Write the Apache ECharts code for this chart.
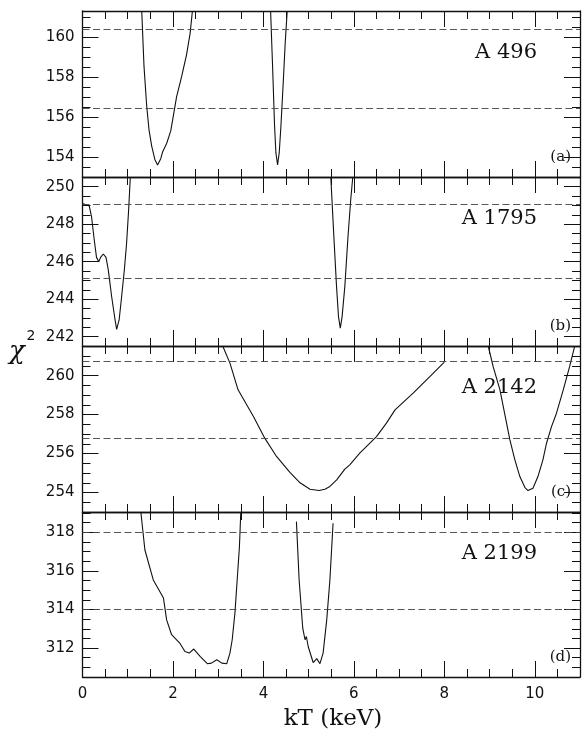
<!DOCTYPE html>
<html>
<head>
<meta charset="utf-8">
<script src="https://cdn.jsdelivr.net/npm/echarts@6/dist/echarts.min.js"></script>
<style>
  html, body { margin: 0; padding: 0; background: #fff; }
  #chart { width: 584px; height: 738px; }
</style>
</head>
<body>
<div id="chart"></div>
<script>
// ---- kT axis ticks (keV) ----
const kTMajorTicks = [0, 2, 4, 6, 8, 10];
const kTMinorTicks = [0.5, 1, 1.5, 2.5, 3, 3.5, 4.5, 5, 5.5, 6.5, 7, 7.5, 8.5, 9, 9.5, 10.5];

// ---- A 496 ----
const a496Range = [153.0, 161.33];
const a496Major = [154, 156, 158, 160];
const a496Levels = [156.45, 160.42];
const a496LowT = [1.31, 1.36, 1.42, 1.47, 1.53, 1.60, 1.66, 1.73, 1.77, 1.86, 1.95, 2.02, 2.08, 2.19, 2.30, 2.38, 2.43];
const a496LowChi = [161.33, 158.55, 156.55, 155.38, 154.55, 153.88, 153.6, 153.92, 154.25, 154.68, 155.3, 156.22, 157.02, 158.02, 159.13, 160.22, 161.33];
const a496HighT = [4.159, 4.203, 4.247, 4.276, 4.313, 4.35, 4.387, 4.438, 4.482, 4.526];
const a496HighChi = [161.33, 158.55, 155.55, 154.22, 153.6, 154.22, 155.55, 157.72, 159.72, 161.33];

// ---- A 1795 ----
const a1795Range = [241.5, 250.52];
const a1795Major = [242, 244, 246, 248, 250];
const a1795Levels = [245.11, 249.06];
const a1795LowT = [0.0, 0.15, 0.2, 0.26, 0.31, 0.36, 0.40, 0.46, 0.52, 0.57, 0.645, 0.72, 0.755, 0.81, 0.865, 0.925, 0.975, 1.02, 1.057];
const a1795LowChi = [249.11, 248.97, 248.4, 247.16, 246.23, 246.0, 246.23, 246.41, 246.23, 245.56, 244.13, 242.89, 242.39, 242.89, 244.13, 245.56, 246.98, 248.76, 250.52];
const a1795HighT = [5.49, 5.558, 5.617, 5.66, 5.70, 5.74, 5.80, 5.87, 5.93, 5.97, 5.975];
const a1795HighChi = [250.52, 247.33, 244.67, 243.07, 242.45, 243.07, 244.67, 247.33, 249.29, 250.36, 250.52];

// ---- A 2142 ----
const a2142Range = [253.0, 261.52];
const a2142Major = [254, 256, 258, 260];
const a2142Levels = [256.77, 260.72];
const a2142LowT = [3.10, 3.26, 3.44, 3.63, 3.78, 4.03, 4.29, 4.586, 4.81, 5.03, 5.23, 5.36, 5.47, 5.62, 5.80, 5.91, 6.13, 6.50, 6.72, 6.91, 7.31, 7.68, 8.00];
const a2142LowChi = [261.52, 260.64, 259.27, 258.5, 257.9, 256.79, 255.85, 255.03, 254.5, 254.17, 254.1, 254.17, 254.31, 254.65, 255.2, 255.42, 256.02, 256.87, 257.56, 258.24, 259.1, 259.95, 260.69];
const a2142HighT = [8.97, 9.08, 9.23, 9.34, 9.45, 9.56, 9.67, 9.78, 9.85, 9.96, 10.07, 10.18, 10.26, 10.37, 10.48, 10.63, 10.77, 10.88];
const a2142HighChi = [261.52, 260.46, 259.27, 257.98, 256.7, 255.68, 254.82, 254.27, 254.1, 254.22, 254.82, 255.68, 256.53, 257.38, 258.07, 259.27, 260.46, 261.49];

// ---- A 2199 ----
const a2199Range = [310.5, 319.05];
const a2199Major = [312, 314, 316, 318];
const a2199Levels = [314.0, 317.98];
const a2199LowT = [1.29, 1.38, 1.565, 1.79, 1.86, 1.97, 2.15, 2.265, 2.36, 2.46, 2.6, 2.76, 2.85, 2.97, 3.08, 3.19, 3.26, 3.31, 3.37, 3.42, 3.47, 3.50];
const a2199LowChi = [319.05, 317.08, 315.53, 314.59, 313.46, 312.69, 312.26, 311.82, 311.74, 311.95, 311.57, 311.19, 311.22, 311.39, 311.22, 311.19, 311.74, 312.43, 313.81, 315.53, 317.26, 319.05];
const a2199HighT = [4.73, 4.79, 4.87, 4.92, 4.95, 4.99, 5.10, 5.18, 5.25, 5.32, 5.40, 5.47, 5.54];
const a2199HighChi = [318.55, 315.53, 313.03, 312.43, 312.6, 312.08, 311.25, 311.45, 311.19, 311.74, 313.46, 315.53, 318.47];

const panels = [
  { name: 'A 496',  tag: '(a)', range: a496Range,  major: a496Major,  levels: a496Levels,
    curves: [[a496LowT, a496LowChi], [a496HighT, a496HighChi]],     top: 11,  height: 166 },
  { name: 'A 1795', tag: '(b)', range: a1795Range, major: a1795Major, levels: a1795Levels,
    curves: [[a1795LowT, a1795LowChi], [a1795HighT, a1795HighChi]], top: 177, height: 169 },
  { name: 'A 2142', tag: '(c)', range: a2142Range, major: a2142Major, levels: a2142Levels,
    curves: [[a2142LowT, a2142LowChi], [a2142HighT, a2142HighChi]], top: 346, height: 166 },
  { name: 'A 2199', tag: '(d)', range: a2199Range, major: a2199Major, levels: a2199Levels,
    curves: [[a2199LowT, a2199LowChi], [a2199HighT, a2199HighChi]], top: 512, height: 165 }
];

const INK = '#111';
const SANS = '"DejaVu Sans", sans-serif';
const SERIF = '"DejaVu Serif", serif';

function halfSteps(lo, hi) {
  const out = [];
  for (let v = Math.ceil(lo * 2) / 2; v <= hi + 1e-9; v += 0.5) out.push(v);
  return out;
}

function axisBase(gi, extra) {
  return Object.assign({
    type: 'value', gridIndex: gi,
    splitLine: { show: false },
    axisLine: { show: false, onZero: false },
    axisLabel: { show: false }
  }, extra);
}

function xAxesFor(gi, showLabels) {
  const common = { min: 0, max: 11 };
  const major = (pos, labels) => axisBase(gi, Object.assign({}, common, {
    position: pos,
    axisLine: { show: true, onZero: false, lineStyle: { color: INK, width: 1.3 } },
    axisTick: { show: true, inside: true, length: 16, customValues: kTMajorTicks, lineStyle: { color: INK, width: 1 } },
    axisLabel: { show: labels, customValues: kTMajorTicks, color: INK, fontFamily: SANS, fontSize: 15, margin: 10 }
  }));
  const minor = (pos) => axisBase(gi, Object.assign({}, common, {
    position: pos,
    axisTick: { show: true, inside: true, length: 8, customValues: kTMinorTicks, lineStyle: { color: INK, width: 1 } }
  }));
  return [major('bottom', showLabels), minor('bottom'), major('top', false), minor('top')];
}

function yAxesFor(gi, p) {
  const common = { min: p.range[0], max: p.range[1] };
  const minorVals = halfSteps(p.range[0], p.range[1]);
  const major = (pos, labels) => axisBase(gi, Object.assign({}, common, {
    position: pos,
    axisLine: { show: true, onZero: false, lineStyle: { color: INK, width: 1.3 } },
    axisTick: { show: true, inside: true, length: 16, customValues: p.major, lineStyle: { color: INK, width: 1 } },
    axisLabel: { show: labels, customValues: p.major, color: INK, fontFamily: SANS, fontSize: 15, margin: 8 }
  }));
  const minor = (pos) => axisBase(gi, Object.assign({}, common, {
    position: pos,
    axisTick: { show: true, inside: true, length: 8, customValues: minorVals, lineStyle: { color: INK, width: 1 } }
  }));
  return [major('left', true), minor('left'), major('right', false), minor('right')];
}

const grid = [], xAxis = [], yAxis = [], series = [], graphic = [];

panels.forEach((p, gi) => {
  grid.push({ left: 82.5, right: 4, top: p.top, height: p.height });
  const xBase = xAxis.length, yBase = yAxis.length;
  xAxis.push(...xAxesFor(gi, gi === panels.length - 1));
  yAxis.push(...yAxesFor(gi, p));

  p.curves.forEach(([ts, chis], ci) => {
    const s = {
      type: 'line', xAxisIndex: xBase, yAxisIndex: yBase,
      data: ts.map((t, i) => [t, chis[i]]),
      showSymbol: false, symbol: 'none', smooth: false, clip: true,
      lineStyle: { color: INK, width: 1.1 },
      silent: true, animation: false
    };
    if (ci === 0) {
      s.markLine = {
        silent: true, symbol: 'none', animation: false,
        label: { show: false },
        lineStyle: { color: '#444', width: 0.9, type: [7, 3.5] },
        data: p.levels.map(v => ({ yAxis: v }))
      };
    }
    series.push(s);
  });

  // cluster name and panel letter
  graphic.push({
    type: 'text', x: 537, y: p.top + 42,
    style: { text: p.name, fill: INK, font: '21px ' + SERIF, textAlign: 'right', textVerticalAlign: 'middle' }
  });
  graphic.push({
    type: 'text', x: 571, y: p.top + p.height - 20,
    style: { text: p.tag, fill: INK, font: '15px ' + SERIF, textAlign: 'right', textVerticalAlign: 'middle' }
  });
});

// axis titles
graphic.push({
  type: 'text', x: 17, y: 352,
  style: { text: 'χ', fill: INK, font: 'italic 26px "DejaVu Serif", serif', textAlign: 'center', textVerticalAlign: 'middle' }
});
graphic.push({
  type: 'text', x: 31, y: 336,
  style: { text: '2', fill: INK, font: '14px ' + SANS, textAlign: 'center', textVerticalAlign: 'middle' }
});
graphic.push({
  type: 'text', x: 333, y: 719,
  style: { text: 'kT (keV)', fill: INK, font: '23px ' + SERIF, textAlign: 'center', textVerticalAlign: 'middle' }
});

const chart = echarts.init(document.getElementById('chart'), null, { renderer: 'canvas' });
chart.setOption({
  backgroundColor: '#fff',
  animation: false,
  grid, xAxis, yAxis, series, graphic
});
</script>
</body>
</html>
